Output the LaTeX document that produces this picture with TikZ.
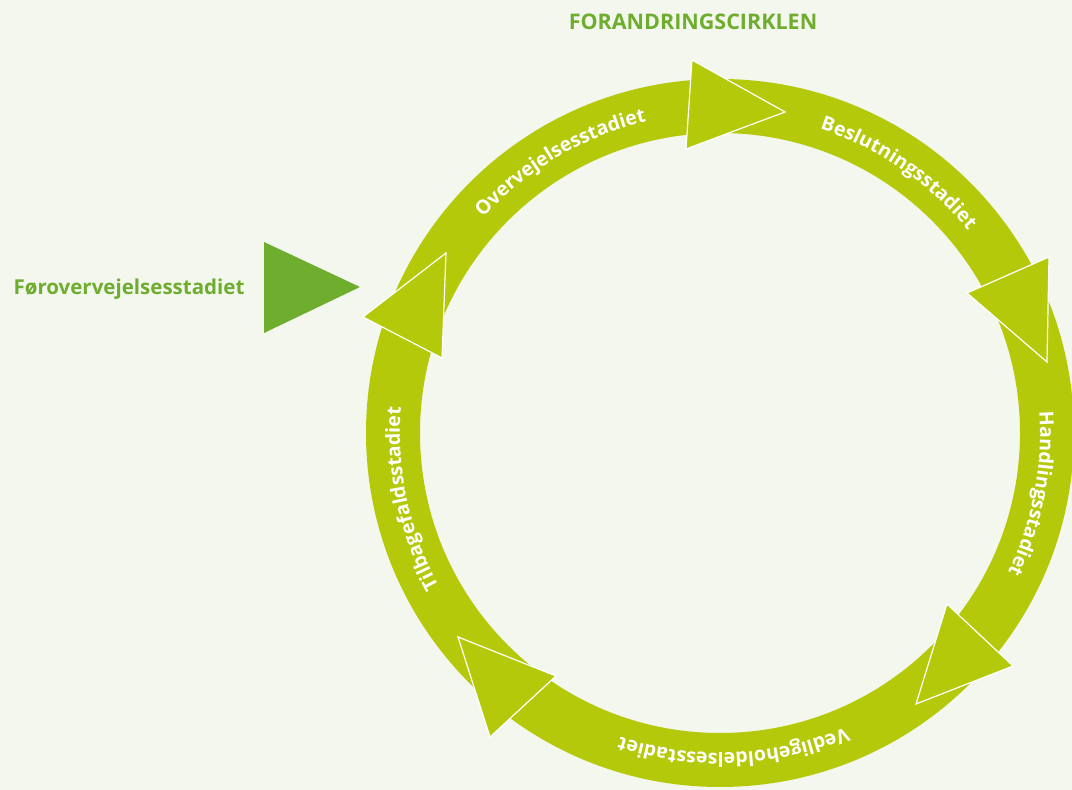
\documentclass[tikz,border=0pt]{standalone}
\usepackage{fontspec}
\setmainfont{Open Sans}
\usetikzlibrary{decorations.text}
\definecolor{ringgreen}{RGB}{180,201,10}
\definecolor{darkgreen}{RGB}{111,173,46}
\definecolor{bgcol}{RGB}{244,247,238}
\newcommand\ringfnt{\fontsize{19.5}{19.5}\selectfont\bfseries}
\tikzset{
  ringtext/.style={decorate, decoration={text along path, text align=center,
      text color=white, text={|\ringfnt|#1}}},
  arrowhead/.style={fill=ringgreen, draw=white, line width=1.2pt, line join=miter},
  titletext/.style={text=darkgreen, font=\fontsize{21.5}{21.5}\selectfont\bfseries, inner sep=0pt},
  pretext/.style={text=darkgreen, font=\fontsize{20.5}{20.5}\selectfont\bfseries, inner sep=0pt}
}
\begin{document}
\begin{tikzpicture}[x=1pt,y=1pt]
\fill[bgcol] (0,0) rectangle (1072,790);
\useasboundingbox (0,0) rectangle (1072,790);
\coordinate (C) at (720,357);
% ring
\fill[ringgreen, even odd rule] (C) circle[radius=354pt] (C) circle[radius=300pt];
% arrowheads
\coordinate (t1) at (692,730); \coordinate (t2) at (785,678); \coordinate (t3) at (686,641);
\coordinate (r1) at (1049,533); \coordinate (r2) at (967,497); \coordinate (r3) at (1047,428);
\coordinate (b1) at (947,186); \coordinate (b2) at (1013,124); \coordinate (b3) at (916,86);
\coordinate (l1) at (458,153); \coordinate (l2) at (556,114); \coordinate (l3) at (490,53);
\coordinate (u1) at (446,537); \coordinate (u2) at (363,473); \coordinate (u3) at (442,432);
\draw[arrowhead] (t1) -- (t2) -- (t3) -- cycle;
\draw[arrowhead] (r1) -- (r2) -- (r3) -- cycle;
\draw[arrowhead] (b1) -- (b2) -- (b3) -- cycle;
\draw[arrowhead] (l1) -- (l2) -- (l3) -- cycle;
\draw[arrowhead] (u1) -- (u2) -- (u3) -- cycle;
% entry triangle
\coordinate (p1) at (264,548); \coordinate (p2) at (360,503); \coordinate (p3) at (264,457);
\fill[darkgreen] (p1) -- (p2) -- (p3) -- cycle;
% ring texts
\path[ringtext=Overvejelsesstadiet] ([shift={(160.5:320pt)}]C) arc[start angle=160.5, end angle=80.5, radius=320pt];
\path[ringtext=Beslutningsstadiet] ([shift={(95.5:320pt)}]C) arc[start angle=95.5, end angle=15.5, radius=320pt];
\path[ringtext=Handlingsstadiet] ([shift={(29:320pt)}]C) arc[start angle=29, end angle=-51, radius=320pt];
\path[ringtext=Vedligeholdelsesstadiet] ([shift={(-47.5:320pt)}]C) arc[start angle=-47.5, end angle=-127.5, radius=320pt];
\path[ringtext=Tilbagefaldsstadiet] ([shift={(232:320pt)}]C) arc[start angle=232, end angle=152, radius=320pt];
% labels
\node[titletext] (title) at (693,768) {FORANDRINGSCIRKLEN};
\node[pretext] (pre) at (129,501) {Førovervejelsesstadiet};
\end{tikzpicture}
\end{document}
